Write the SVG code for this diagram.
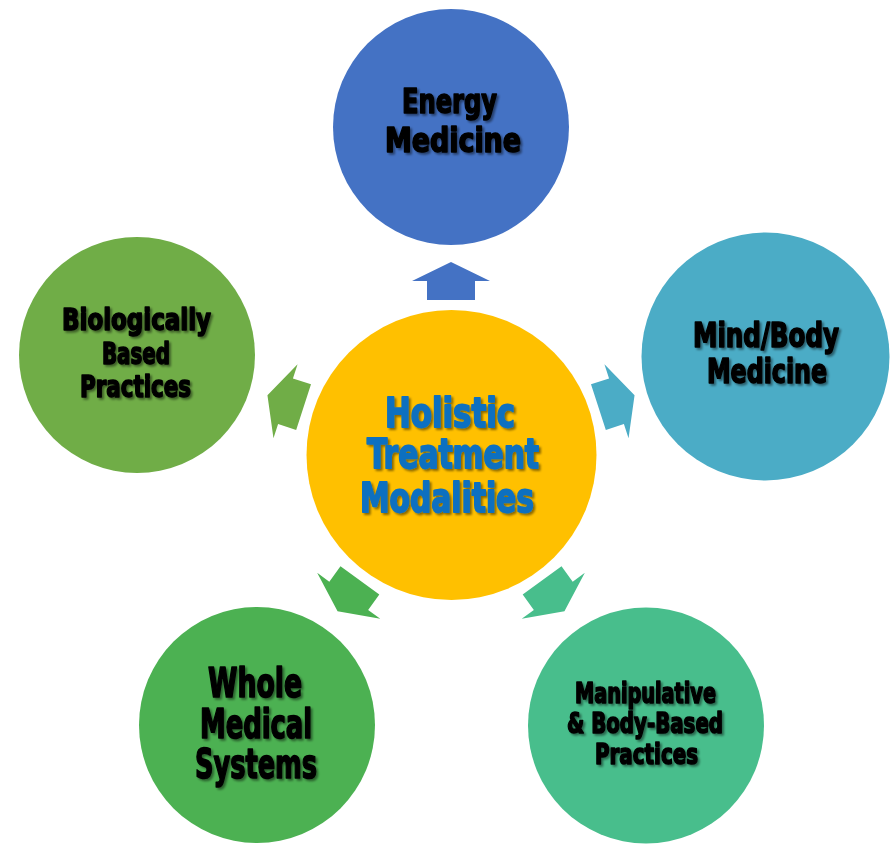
<svg xmlns="http://www.w3.org/2000/svg" width="896" height="860" viewBox="0 0 896 860">
<defs>
<filter id="sh" x="-10%" y="-20%" width="120%" height="150%">
<feDropShadow dx="2" dy="2" stdDeviation="1" flood-color="#000" flood-opacity="0.45"/>
</filter>
<polygon id="arr" points="451,262 490,281 475,281 475,300 427,300 427,281 412,281"/>
</defs>
<style>
.t{font-family:"Liberation Sans Narrow","DejaVu Sans Condensed","Liberation Sans",sans-serif;font-weight:bold;fill:#000;stroke:#000;stroke-width:1.6;stroke-linejoin:round;filter:url(#sh)}
.c{fill:#0A70C0;stroke:#0A70C0;stroke-width:1.8}
</style>
<g id="connectors">
<use href="#arr" fill="#4472C4"/>
<use href="#arr" fill="#4BACC6" transform="rotate(72 451 455)"/>
<use href="#arr" fill="#48BE8C" transform="rotate(144 451 455)"/>
<use href="#arr" fill="#4CB152" transform="rotate(216 451 455)"/>
<use href="#arr" fill="#70AD47" transform="rotate(288 451 455)"/>
</g>
<g id="center">
<circle cx="451.5" cy="455" r="145" fill="#FFC000"/>
<text class="t c" font-size="41"><tspan x="385" y="427" textLength="130" lengthAdjust="spacingAndGlyphs">Holistic</tspan><tspan x="367" y="468" textLength="172" lengthAdjust="spacingAndGlyphs">Treatment</tspan><tspan x="360" y="512" textLength="174" lengthAdjust="spacingAndGlyphs">Modalities</tspan></text>
</g>
<g id="energy">
<circle cx="451" cy="127" r="118" fill="#4472C4"/>
<text class="t" font-size="34"><tspan x="402" y="113" textLength="95" lengthAdjust="spacingAndGlyphs">Energy</tspan><tspan x="385" y="152" textLength="136" lengthAdjust="spacingAndGlyphs">Medicine</tspan></text>
</g>
<g id="mindbody">
<circle cx="765.5" cy="356.5" r="124" fill="#4BACC6"/>
<text class="t" font-size="34"><tspan x="693" y="347" textLength="146" lengthAdjust="spacingAndGlyphs">Mind/Body</tspan><tspan x="707" y="383" textLength="120" lengthAdjust="spacingAndGlyphs">Medicine</tspan></text>
</g>
<g id="biological">
<circle cx="137" cy="355" r="118" fill="#70AD47"/>
<text class="t" font-size="31"><tspan x="62" y="330" textLength="149" lengthAdjust="spacingAndGlyphs">Biologically</tspan><tspan x="102" y="364" textLength="68" lengthAdjust="spacingAndGlyphs">Based</tspan><tspan x="80" y="397" textLength="111" lengthAdjust="spacingAndGlyphs">Practices</tspan></text>
</g>
<g id="whole">
<circle cx="257" cy="725" r="118" fill="#4CB152"/>
<text class="t" font-size="40"><tspan x="208" y="697" textLength="94" lengthAdjust="spacingAndGlyphs">Whole</tspan><tspan x="200" y="738" textLength="112" lengthAdjust="spacingAndGlyphs">Medical</tspan><tspan x="195" y="778" textLength="122" lengthAdjust="spacingAndGlyphs">Systems</tspan></text>
</g>
<g id="manipulative">
<circle cx="646" cy="725.5" r="118" fill="#48BE8C"/>
<text class="t" font-size="29"><tspan x="575" y="703" textLength="141" lengthAdjust="spacingAndGlyphs">Manipulative</tspan><tspan x="567" y="733" textLength="156" lengthAdjust="spacingAndGlyphs">&amp; Body-Based</tspan><tspan x="595" y="764" textLength="103" lengthAdjust="spacingAndGlyphs">Practices</tspan></text>
</g>
</svg>
